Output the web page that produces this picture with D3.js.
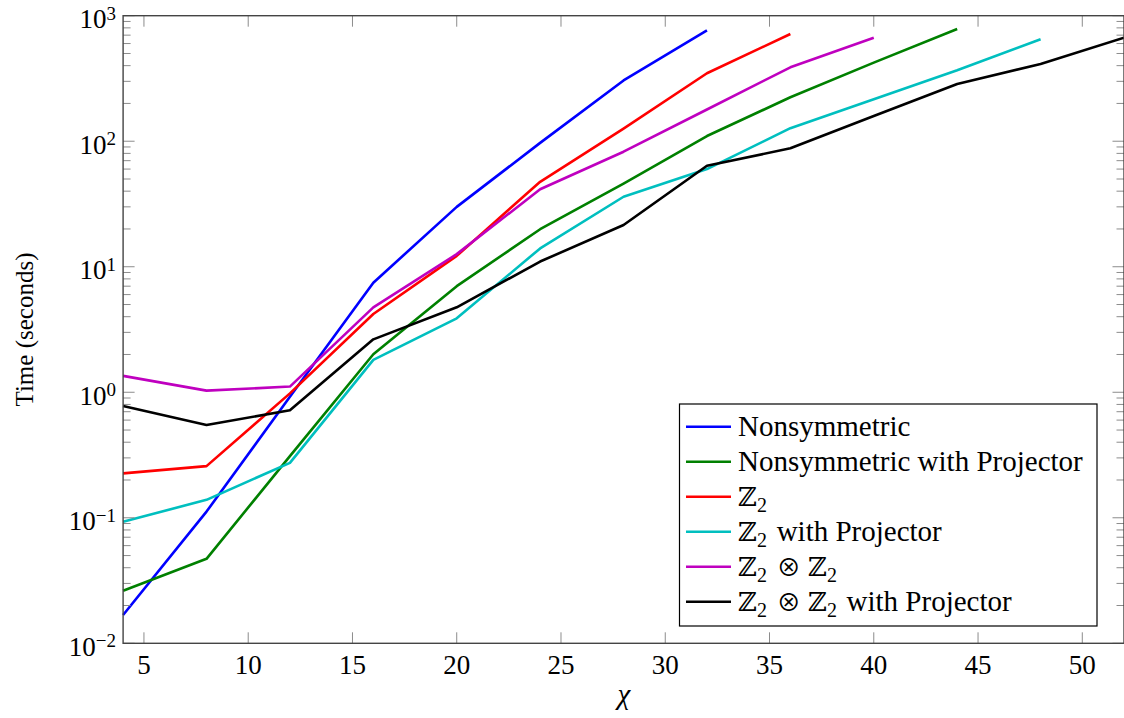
<!DOCTYPE html>
<html><head><meta charset="utf-8">
<script src="https://cdn.jsdelivr.net/npm/d3@7"></script>
<style>
html,body{margin:0;padding:0;background:#fff;}
svg{display:block;}
text{font-family:"Liberation Serif","DejaVu Serif",serif;fill:#000;}
</style></head>
<body>
<svg id="chart" width="1124" height="718"></svg>
<script>
// ---- data ----
const chi = [4, 8, 12, 16, 20, 24, 28, 32, 36, 40, 44, 48, 52];
const seriesNames = [
  "Nonsymmetric",
  "Nonsymmetric with Projector",
  "ℤ_2",
  "ℤ_2 with Projector",
  "ℤ_2 ⊗ ℤ_2",
  "ℤ_2 ⊗ ℤ_2 with Projector"
];
const seriesColors = ["#0000ff", "#008000", "#ff0000", "#00bfbf", "#bf00bf", "#000000"];
const nonsym       = [0.0168, 0.112, 0.92, 7.46, 30, 97, 305, 765];
const nonsymProj   = [0.0262, 0.0471, 0.31, 2.01, 7.0, 19.9, 46, 110, 224, 423, 783];
const z2           = [0.226, 0.258, 0.98, 4.2, 12.2, 47.5, 126, 348, 715];
const z2Proj       = [0.093, 0.139, 0.274, 1.81, 3.88, 14.0, 36.1, 60, 127, 216, 367, 649];
const z2z2         = [1.35, 1.03, 1.11, 4.75, 12.6, 41.4, 82.5, 179, 388, 668];
const z2z2Proj     = [0.776, 0.548, 0.72, 2.64, 4.75, 11.0, 21.5, 63.8, 87.8, 159, 286, 412, 668];
const seriesValues = [nonsym, nonsymProj, z2, z2Proj, z2z2, z2z2Proj];
const xTicks = [5, 10, 15, 20, 25, 30, 35, 40, 45, 50];
const yExps = [-2, -1, 0, 1, 2, 3];
const xLabel = "χ";
const yLabel = "Time (seconds)";

// ---- layout ----
const L = 123.1, R = 1124, T = 15.7, B = 643.3;
const svg = d3.select("#chart");
const x = d3.scaleLinear().domain([4, 52]).range([L, R]);
const y = d3.scaleLog().domain([1e-2, 1e3]).range([B, T]);

// ---- data lines ----
const line = d3.line().x((d, i) => x(chi[i])).y(d => y(d));
seriesValues.forEach((vals, k) => {
  svg.append("path").datum(vals)
    .attr("d", line)
    .attr("fill", "none")
    .attr("stroke", seriesColors[k])
    .attr("stroke-width", 2.6)
    .attr("stroke-linejoin", "round");
});

// ---- ticks ----
const tickCol = "#8c8c8c";
const g = svg.append("g");
xTicks.forEach(t => {
  g.append("line").attr("x1", x(t)).attr("x2", x(t)).attr("y1", B).attr("y2", B - 11).attr("stroke", tickCol).attr("stroke-width", 1);
  g.append("line").attr("x1", x(t)).attr("x2", x(t)).attr("y1", T).attr("y2", T + 11).attr("stroke", tickCol).attr("stroke-width", 1);
  svg.append("text").attr("x", x(t)).attr("y", 674).attr("text-anchor", "middle").attr("font-size", 27).text(t);
});
for (let e = -2; e <= 3; e++) {
  const v = Math.pow(10, e);
  [[L, 1], [R, -1]].forEach(([x0, s]) => {
    g.append("line").attr("x1", x0).attr("x2", x0 + s * 11.5).attr("y1", y(v)).attr("y2", y(v)).attr("stroke", tickCol).attr("stroke-width", 1);
    if (e < 3) for (let m = 2; m <= 9; m++) {
      const yy = y(m * v);
      g.append("line").attr("x1", x0).attr("x2", x0 + s * 7.5).attr("y1", yy).attr("y2", yy).attr("stroke", tickCol).attr("stroke-width", 1);
    }
  });
}
yExps.forEach(e => {
  const tx = svg.append("text").attr("x", 116).attr("y", y(Math.pow(10, e)) + 12.6).attr("text-anchor", "end").attr("font-size", 27);
  tx.append("tspan").text("10");
  tx.append("tspan").attr("font-size", 19).attr("dy", -8.5).text(e < 0 ? "−" + Math.abs(e) : String(e));
});

// ---- frame ----
svg.append("rect").attr("x", L).attr("y", T).attr("width", R - L).attr("height", B - T)
  .attr("fill", "none").attr("stroke", "#444").attr("stroke-width", 1.4);

// ---- axis labels ----
svg.append("text").attr("x", 624).attr("y", 704).attr("text-anchor", "middle")
  .attr("font-size", 29).attr("font-style", "italic").attr("font-family", "DejaVu Serif, serif").text(xLabel);
svg.append("text").attr("transform", "translate(33," + ((T + B) / 2) + ") rotate(-90)")
  .attr("text-anchor", "middle").attr("font-size", 25).text(yLabel);

// ---- legend ----
const lg = svg.append("g");
lg.append("rect").attr("x", 679.5).attr("y", 404).attr("width", 417.5).attr("height", 222)
  .attr("fill", "#fff").attr("stroke", "#000").attr("stroke-width", 1.2);
seriesNames.forEach((name, k) => {
  const cy = 426.7 + k * 35;
  lg.append("line").attr("x1", 686).attr("x2", 731).attr("y1", cy).attr("y2", cy)
    .attr("stroke", seriesColors[k]).attr("stroke-width", 2.6);
  const t = lg.append("text").attr("x", 738).attr("y", cy + 9).attr("font-size", 29);
  const parts = name.split(/(_2)/);
  parts.forEach(p => {
    if (p === "_2") {
      t.append("tspan").attr("font-size", 20).attr("dy", 6).text("2");
      t.append("tspan").attr("dy", -6).text("\u200A");
    } else if (p.length) {
      const segs = p.split(/(ℤ|⊗)/);
      segs.forEach(s => {
        if (!s) return;
        const ts = t.append("tspan").text(s);
        if (s === "ℤ") ts.attr("font-family", "DejaVu Serif, serif").attr("font-size", 26);
        if (s === "⊗") ts.attr("font-family", "Noto Sans CJK JP, DejaVu Sans, sans-serif").attr("font-size", 24);
      });
    }
  });
});
</script>
</body></html>
